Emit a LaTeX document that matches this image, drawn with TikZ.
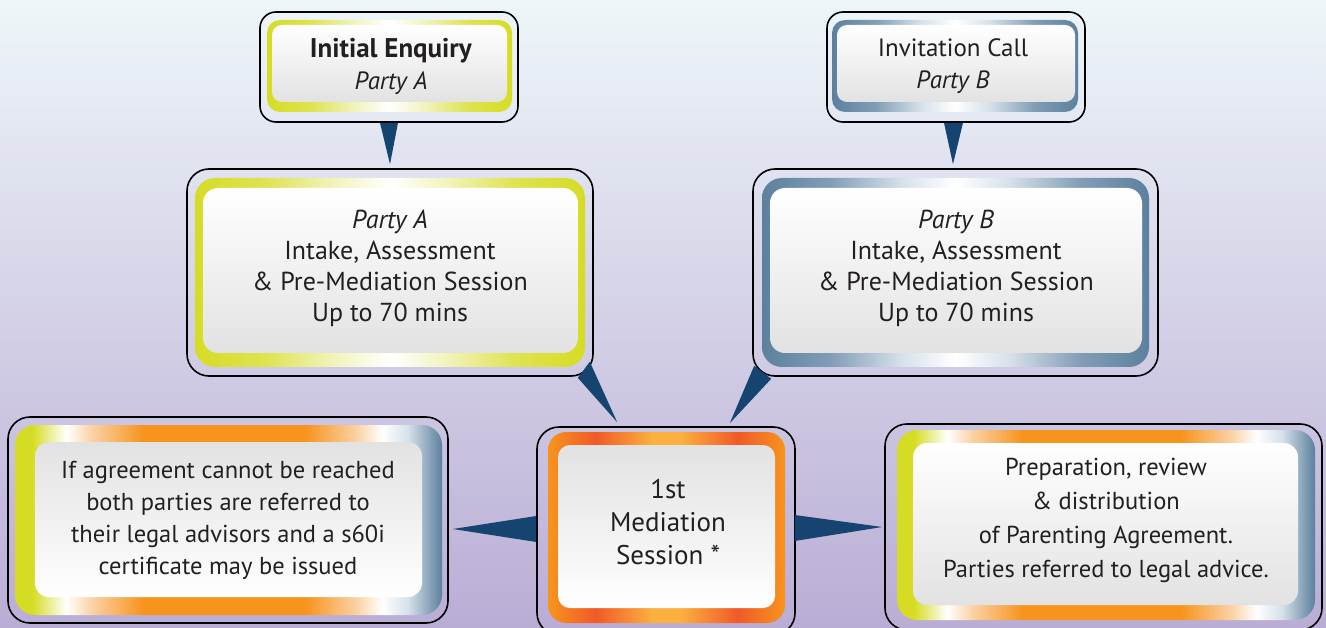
\documentclass[tikz,border=0pt]{standalone}
\usepackage{fontspec}
\setmainfont{PT Sans}
\usetikzlibrary{calc}
\definecolor{bgtop}{RGB}{238,246,249}
\definecolor{bgmid}{RGB}{215,215,234}
\definecolor{bgbot}{RGB}{186,173,213}
\definecolor{arrowblue}{RGB}{22,68,112}
\definecolor{textgray}{RGB}{35,31,32}
\definecolor{yel}{RGB}{214,220,36}
\definecolor{yelA}{RGB}{222,227,80}
\definecolor{yelB}{RGB}{242,244,190}
\definecolor{stb}{RGB}{92,128,158}
\definecolor{stbA}{RGB}{130,158,182}
\definecolor{stbB}{RGB}{214,225,234}
\definecolor{org}{RGB}{247,148,29}
\definecolor{orgR}{RGB}{240,90,40}
\definecolor{orgL}{RGB}{251,176,64}
\definecolor{orgP}{RGB}{250,210,165}
\definecolor{ingray}{RGB}{226,226,226}
\pgfdeclarehorizontalshading{yfr}{100bp}{color(0bp)=(yel); color(25bp)=(yel); color(34bp)=(yelA); color(43bp)=(yelB); color(50bp)=(white); color(57bp)=(yelB); color(66bp)=(yelA); color(75bp)=(yel); color(100bp)=(yel)}
\pgfdeclarehorizontalshading{bfr}{100bp}{color(0bp)=(stb); color(25bp)=(stb); color(34bp)=(stbA); color(43bp)=(stbB); color(50bp)=(white); color(57bp)=(stbB); color(66bp)=(stbA); color(75bp)=(stb); color(100bp)=(stb)}
\pgfdeclarehorizontalshading{ofr}{100bp}{color(0bp)=(org); color(25bp)=(org); color(35bp)=(orgR); color(47bp)=(orgL); color(53bp)=(orgL); color(65bp)=(orgR); color(75bp)=(org); color(100bp)=(org)}
\pgfdeclarehorizontalshading{mfr}{100bp}{color(0bp)=(yel); color(25bp)=(yel); color(27bp)=(yel); color(31bp)=(white); color(34bp)=(orgP); color(40bp)=(org); color(59bp)=(org); color(65bp)=(orgP); color(68bp)=(white); color(71bp)=(stbB); color(75bp)=(stb); color(100bp)=(stb)}
\tikzset{
  outerbox/.style={draw=black, line width=1.6pt, rounded corners=18pt, inner sep=0pt, fill=none},
  wedge/.style={fill=arrowblue},
  txt/.style={align=center, text=textgray, inner sep=0pt, font=\fontsize{24}{32}\selectfont},
  inlight/.style={top color=white, bottom color=ingray},
  indark/.style={top color=ingray, bottom color=white},
}
\begin{document}
\begin{tikzpicture}[x=1pt,y=-1pt]
\useasboundingbox (0,0) rectangle (1326,628);
\clip (0,0) rectangle (1326,628);
\shade[top color=bgtop, middle color=bgmid, bottom color=bgbot] (0,0) rectangle (1326,628);

% outer boxes
\node[outerbox, rounded corners=16pt, minimum width=258pt, minimum height=110pt] (b1) at (389,67) {};
\node[outerbox, rounded corners=16pt, minimum width=258pt, minimum height=110pt] (b2) at (956,67) {};
\node[outerbox, rounded corners=22pt, minimum width=406pt, minimum height=207pt] (b3) at (390,272.5) {};
\node[outerbox, rounded corners=22pt, minimum width=405pt, minimum height=207pt] (b4) at (955.5,272.5) {};
\node[outerbox, rounded corners=22pt, minimum width=258pt, minimum height=208pt] (b5) at (666,531) {};
\node[outerbox, rounded corners=22pt, minimum width=440pt, minimum height=206pt] (b6) at (228,520) {};
\node[outerbox, rounded corners=22pt, minimum width=437pt, minimum height=206pt] (b7) at (1103.5,527) {};

% wedges (connectors)
\fill[wedge] ($(b1.south)+(-9,0)$) -- ($(b1.south)+(9,0)$) -- ($(b3.north)+(0,-4)$) -- cycle;
\fill[wedge] ($(b2.south)+(-12,0)$) -- ($(b2.south)+(7,0)$) -- ($(b4.north)+(-2.5,-4)$) -- cycle;
\fill[wedge] ($(b3.south east)+(-16,1)$) -- ($(b3.south east)+(-4,-15)$) -- ($(b5.north west)+(81,-4)$) -- cycle;
\fill[wedge] ($(b4.south west)+(2,-11)$) -- ($(b4.south west)+(19,2)$) -- ($(b5.north east)+(-66,-3)$) -- cycle;
\fill[wedge] ($(b5.west)+(0,-15)$) -- ($(b5.west)+(0,11)$) -- ($(b6.east)+(4,9)$) -- cycle;
\fill[wedge] ($(b5.east)+(-1,-16)$) -- ($(b5.east)+(-1,10)$) -- ($(b7.west)+(-2,0)$) -- cycle;

% frames
\path[shading=yfr, rounded corners=13pt] (267,20) rectangle (512,112);
\path[shading=bfr, rounded corners=13pt] (832,20) rectangle (1078,112);
\path[shading=yfr, rounded corners=20pt] (195,178) rectangle (585,367);
\path[shading=bfr, rounded corners=20pt] (762,178) rectangle (1149,367);
\path[shading=ofr, rounded corners=18pt] (548,432) rectangle (785,623);
\path[shading=mfr, rounded corners=20pt] (15,425) rectangle (442,615);
\path[shading=mfr, rounded corners=20pt] (897,430) rectangle (1315,620);

% inner panels
\path[inlight, rounded corners=10pt] (272,25) rectangle (507,102);
\path[inlight, rounded corners=10pt] (837,25) rectangle (1075,102);
\path[inlight, rounded corners=15pt] (203,188) rectangle (578,353);
\path[inlight, rounded corners=15pt] (770,188) rectangle (1142,353);
\path[indark, rounded corners=12pt] (558,445) rectangle (775,608);
\path[indark, rounded corners=14pt] (35,442) rectangle (422,597);
\path[inlight, rounded corners=14pt] (913,443) rectangle (1298,605);

% texts
\node[txt, font=\fontsize{25}{32}\selectfont] (t1) at (391,66) {\textbf{\fontsize{27}{32}\selectfont Initial Enquiry}\\\textit{Party A}};
\node[txt, font=\fontsize{25}{32}\selectfont] (t2) at (953,66) {Invitation Call\\\textit{Party B}};
\node[txt, font=\fontsize{26}{31}\selectfont] (t3) at (390,268.5) {\textit{Party A}\\Intake, Assessment\\\& Pre-Mediation Session\\Up to 70 mins};
\node[txt, font=\fontsize{26}{31}\selectfont] (t4) at (956,268.5) {\textit{Party B}\\Intake, Assessment\\\& Pre-Mediation Session\\Up to 70 mins};
\node[txt, font=\fontsize{27}{33}\selectfont] (t5) at (668,522) {1st\\Mediation\\Session *};
\node[txt, font=\fontsize{24.5}{32}\selectfont] (t6) at (228,520) {If agreement cannot be reached\\both parties are referred to\\their legal advisors and a s60i\\certificate may be issued};
\node[txt, font=\fontsize{24.5}{34}\selectfont] (t7) at (1106,520.5) {Preparation, review\\\& distribution\\of Parenting Agreement.\\Parties referred to legal advice.};
\end{tikzpicture}
\end{document}
